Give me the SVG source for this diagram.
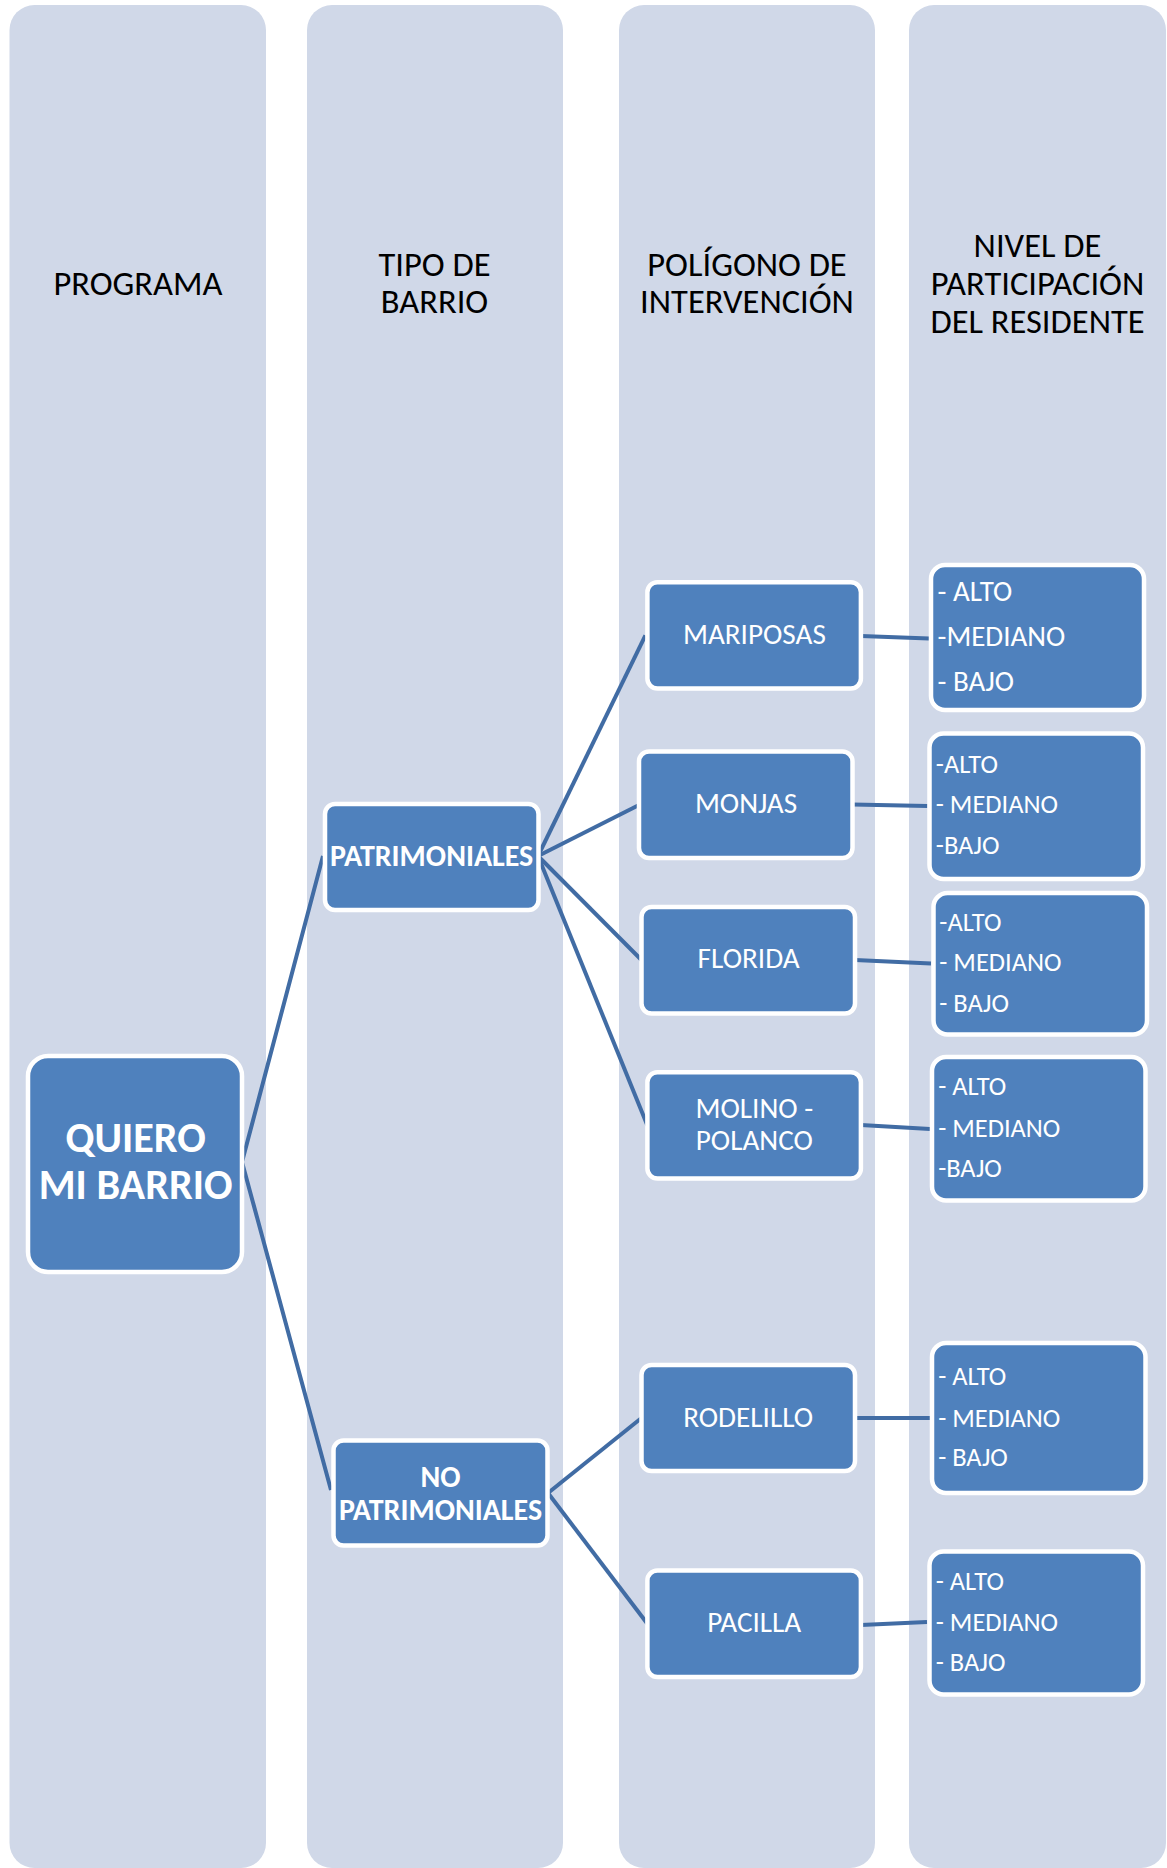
<svg xmlns="http://www.w3.org/2000/svg" width="1167" height="1868" viewBox="0 0 1167 1868">
<style>
.col{fill:#D0D8E8}
.node{fill:#4F81BD;stroke:#FFFFFF;stroke-width:4.5}
.hdr{font-family:Carlito,Lato,"Liberation Sans",sans-serif;font-size:34.5px;fill:#000;text-anchor:middle}
.lbl{font-family:Carlito,Lato,"Liberation Sans",sans-serif;font-size:29.2px;fill:#FFF;text-anchor:middle}
.bold{font-weight:bold;font-size:30px}
.big{font-size:42.2px}
.lvl{font-family:Carlito,Lato,"Liberation Sans",sans-serif;font-size:26.4px;fill:#FFF}
.lvl1{font-size:29px}
.con{stroke:#416CA4;stroke-width:4;fill:none;stroke-linecap:butt}
</style>
<rect width="1167" height="1868" fill="#FFFFFF"/>
<g id="columns">
<rect id="col-programa" class="col" x="9.5" y="5" width="256.5" height="1863" rx="25"/>
<rect id="col-tipo" class="col" x="307" y="5" width="256" height="1863" rx="25"/>
<rect id="col-poligono" class="col" x="619" y="5" width="256" height="1863" rx="25"/>
<rect id="col-nivel" class="col" x="909" y="5" width="257" height="1863" rx="25"/>
<text class="hdr" x="138" y="295">PROGRAMA</text>
<text class="hdr" x="434.5" y="276">TIPO DE</text>
<text class="hdr" x="434.5" y="313">BARRIO</text>
<text class="hdr" x="747" y="276">POLÍGONO DE</text>
<text class="hdr" x="747" y="313">INTERVENCIÓN</text>
<text class="hdr" x="1037.5" y="257">NIVEL DE</text>
<text class="hdr" x="1037.5" y="295">PARTICIPACIÓN</text>
<text class="hdr" x="1037.5" y="333">DEL RESIDENTE</text>
</g>
<g id="connectors">
<polyline class="con" points="323,856 242,1162 331,1490"/>
<line class="con" x1="538" y1="856" x2="645.4" y2="635.4"/>
<line class="con" x1="538" y1="856" x2="639" y2="805"/>
<line class="con" x1="538" y1="856" x2="641.5" y2="960"/>
<line class="con" x1="538" y1="856" x2="647.4" y2="1125.4"/>
<line class="con" x1="548" y1="1493" x2="641.5" y2="1418"/>
<line class="con" x1="548" y1="1493" x2="647.4" y2="1623.8"/>
<line class="con" x1="861" y1="636" x2="929" y2="638.5"/>
<line class="con" x1="852.5" y1="804.5" x2="927.5" y2="806"/>
<line class="con" x1="855" y1="960" x2="931" y2="963.5"/>
<line class="con" x1="861" y1="1125" x2="930" y2="1129"/>
<line class="con" x1="855" y1="1418" x2="930" y2="1418"/>
<line class="con" x1="861" y1="1625" x2="927" y2="1622"/>
</g>
<g id="quiero">
<rect class="node" x="28" y="1056" width="214" height="216" rx="20"/>
<text class="lbl bold big" x="135.6" y="1152.4">QUIERO</text>
<text class="lbl bold big" x="135.6" y="1199.4">MI BARRIO</text>
</g>
<g id="patrimoniales">
<rect class="node" x="325" y="804" width="213.5" height="106" rx="10"/>
<text class="lbl bold" x="431.7" y="865.7">PATRIMONIALES</text>
</g>
<g id="no-patrimoniales">
<rect class="node" x="333.5" y="1440.5" width="214" height="105" rx="10"/>
<text class="lbl bold" x="440.5" y="1486.6">NO</text>
<text class="lbl bold" x="440.5" y="1519.8">PATRIMONIALES</text>
</g>
<g id="mariposas">
<rect class="node" x="647.4" y="582.2" width="213.5" height="106.4" rx="10"/>
<text class="lbl" x="754.4" y="644.3">MARIPOSAS</text>
</g>
<g id="monjas">
<rect class="node" x="639" y="751.5" width="213.5" height="106.5" rx="10"/>
<text class="lbl" x="746" y="813.3">MONJAS</text>
</g>
<g id="florida">
<rect class="node" x="641.5" y="907" width="213.5" height="106.5" rx="10"/>
<text class="lbl" x="748.6" y="968.3">FLORIDA</text>
</g>
<g id="molino-polanco">
<rect class="node" x="647.4" y="1072.2" width="213.5" height="106.4" rx="10"/>
<text class="lbl" x="754.3" y="1118.3">MOLINO -</text>
<text class="lbl" x="754.3" y="1150">POLANCO</text>
</g>
<g id="rodelillo">
<rect class="node" x="641.5" y="1365" width="213.5" height="106" rx="10"/>
<text class="lbl" x="748.2" y="1426.7">RODELILLO</text>
</g>
<g id="pacilla">
<rect class="node" x="647.4" y="1570.5" width="213.5" height="106.5" rx="10"/>
<text class="lbl" x="754.3" y="1632.3">PACILLA</text>
</g>
<g id="nivel-mariposas">
<rect class="node" x="931" y="565" width="213" height="145" rx="14"/>
<text class="lvl lvl1" x="937.5" y="601">- ALTO</text>
<text class="lvl lvl1" x="937.5" y="646">-MEDIANO</text>
<text class="lvl lvl1" x="937.5" y="690.7">- BAJO</text>
</g>
<g id="nivel-monjas">
<rect class="node" x="929.5" y="733.5" width="213.5" height="145.5" rx="14"/>
<text class="lvl" x="935.8" y="772.7">-ALTO</text>
<text class="lvl" x="935.8" y="813.3">- MEDIANO</text>
<text class="lvl" x="935.8" y="854">-BAJO</text>
</g>
<g id="nivel-florida">
<rect class="node" x="933.5" y="893" width="213.5" height="141.5" rx="14"/>
<text class="lvl" x="939.3" y="930.7">-ALTO</text>
<text class="lvl" x="939.3" y="970.7">- MEDIANO</text>
<text class="lvl" x="939.3" y="1011.7">- BAJO</text>
</g>
<g id="nivel-molino">
<rect class="node" x="932" y="1057" width="213.5" height="143.5" rx="14"/>
<text class="lvl" x="938.2" y="1095">- ALTO</text>
<text class="lvl" x="938.2" y="1136.7">- MEDIANO</text>
<text class="lvl" x="938.2" y="1176.7">-BAJO</text>
</g>
<g id="nivel-rodelillo">
<rect class="node" x="932" y="1343" width="213.5" height="150" rx="14"/>
<text class="lvl" x="938.2" y="1385">- ALTO</text>
<text class="lvl" x="938.2" y="1426.7">- MEDIANO</text>
<text class="lvl" x="938.2" y="1466">- BAJO</text>
</g>
<g id="nivel-pacilla">
<rect class="node" x="929.5" y="1551.5" width="213.5" height="143" rx="14"/>
<text class="lvl" x="935.8" y="1590">- ALTO</text>
<text class="lvl" x="935.8" y="1630.7">- MEDIANO</text>
<text class="lvl" x="935.8" y="1670.7">- BAJO</text>
</g>
</svg>
